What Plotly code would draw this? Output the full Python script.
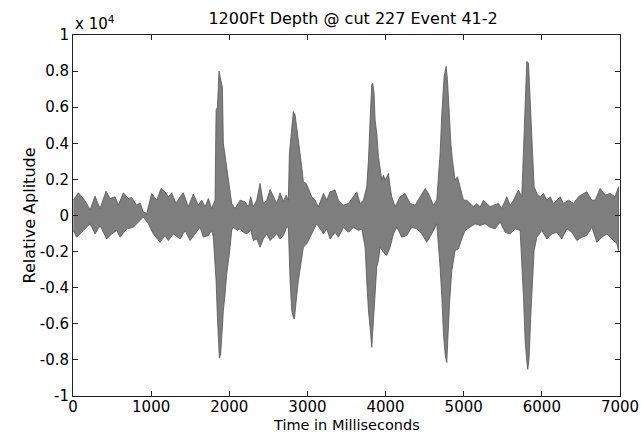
import numpy as np
import plotly.graph_objects as go

# envelope of the trace (amplitude in units of 10^4)
t_upper = [4, 68, 133, 175, 218, 282, 346, 423, 474, 538, 580, 644, 708, 751, 815, 858, 900, 943,
           1007, 1071, 1127, 1178, 1220, 1263, 1319, 1370, 1412, 1476, 1540, 1604, 1647, 1690, 1732,
           1775, 1818, 1831, 1848, 1869, 1882, 1895, 1912, 1924, 1946, 1967, 2001, 2031, 2074, 2138,
           2202, 2245, 2274, 2308, 2351, 2394, 2436, 2479, 2522, 2564, 2607, 2650, 2692, 2727, 2756,
           2769, 2799, 2820, 2842, 2863, 2884, 2906, 2927, 2948, 2982, 3012, 3055, 3098, 3140, 3205,
           3247, 3290, 3354, 3397, 3461, 3525, 3589, 3631, 3674, 3717, 3759, 3781, 3802, 3823, 3836,
           3853, 3866, 3887, 3909, 3930, 3951, 3973, 3994, 4015, 4037, 4058, 4079, 4122, 4186, 4250,
           4314, 4378, 4442, 4506, 4549, 4613, 4655, 4698, 4720, 4749, 4775, 4792, 4813, 4835, 4856,
           4890, 4920, 4954, 4997, 5039, 5082, 5125, 5167, 5210, 5253, 5295, 5338, 5381, 5445, 5488,
           5551, 5594, 5637, 5701, 5743, 5765, 5786, 5807, 5829, 5842, 5859, 5880, 5901, 5936, 5978,
           6021, 6064, 6106, 6149, 6192, 6234, 6277, 6341, 6405, 6469, 6533, 6575, 6640, 6682, 6746,
           6810, 6874, 6938, 6981]
v_upper = [0.085, 0.126, 0.094, 0.067, 0.030, 0.107, 0.039, 0.135, 0.094, 0.104, 0.057, 0.126, 0.094,
           0.100, 0.057, 0.070, 0.020, 0.011, 0.122, 0.085, 0.150, 0.131, 0.104, 0.126, 0.067, 0.104,
           0.126, 0.048, 0.119, 0.057, 0.085, 0.048, 0.094, 0.039, 0.085, 0.585, 0.600, 0.800, 0.770,
           0.740, 0.710, 0.400, 0.326, 0.250, 0.160, 0.067, 0.039, 0.085, 0.076, 0.048, 0.104, 0.048,
           0.085, 0.178, 0.067, 0.085, 0.144, 0.104, 0.067, 0.126, 0.076, 0.113, 0.085, 0.344, 0.510,
           0.576, 0.557, 0.490, 0.400, 0.335, 0.270, 0.187, 0.178, 0.150, 0.104, 0.085, 0.048, 0.122,
           0.085, 0.131, 0.141, 0.085, 0.057, 0.067, 0.104, 0.131, 0.067, 0.085, 0.159, 0.307, 0.530,
           0.724, 0.733, 0.678, 0.530, 0.456, 0.326, 0.252, 0.196, 0.224, 0.196, 0.215, 0.233, 0.159,
           0.104, 0.048, 0.104, 0.122, 0.067, 0.057, 0.104, 0.150, 0.122, 0.057, 0.085, 0.344, 0.567,
           0.770, 0.826, 0.752, 0.585, 0.400, 0.307, 0.196, 0.215, 0.159, 0.085, 0.085, 0.067, 0.048,
           0.067, 0.048, 0.085, 0.067, 0.048, 0.057, 0.067, 0.039, 0.104, 0.057, 0.085, 0.141, 0.104,
           0.363, 0.640, 0.854, 0.844, 0.715, 0.493, 0.307, 0.159, 0.122, 0.104, 0.122, 0.085, 0.104,
           0.067, 0.085, 0.104, 0.067, 0.085, 0.067, 0.104, 0.122, 0.131, 0.085, 0.085, 0.150, 0.113,
           0.122, 0.104, 0.159]

t_lower = [4, 47, 133, 218, 282, 346, 431, 495, 559, 602, 687, 772, 836, 900, 964, 1028, 1114, 1178,
           1220, 1284, 1370, 1434, 1498, 1562, 1626, 1668, 1732, 1775, 1796, 1831, 1848, 1860, 1873,
           1890, 1903, 1924, 1946, 1967, 2001, 2031, 2052, 2104, 2138, 2180, 2223, 2274, 2308, 2351,
           2394, 2436, 2479, 2522, 2564, 2607, 2650, 2692, 2735, 2756, 2778, 2799, 2820, 2833, 2850,
           2863, 2884, 2906, 2948, 2991, 3055, 3119, 3205, 3247, 3290, 3354, 3397, 3461, 3525, 3589,
           3653, 3695, 3738, 3759, 3781, 3802, 3823, 3845, 3866, 3887, 3909, 3930, 3973, 4015, 4058,
           4101, 4143, 4207, 4271, 4335, 4399, 4463, 4527, 4591, 4655, 4698, 4720, 4741, 4762, 4783,
           4796, 4818, 4847, 4890, 4933, 4975, 5018, 5082, 5146, 5210, 5274, 5338, 5402, 5466, 5530,
           5594, 5658, 5722, 5743, 5765, 5786, 5807, 5820, 5837, 5859, 5880, 5901, 5936, 6000, 6064,
           6128, 6192, 6256, 6320, 6384, 6448, 6512, 6575, 6640, 6704, 6768, 6832, 6896, 6960, 6981]
v_lower = [-0.083, -0.120, -0.083, -0.046, -0.102, -0.056, -0.130, -0.102, -0.083, -0.120, -0.074,
           -0.065, -0.037, -0.009, -0.046, -0.102, -0.148, -0.111, -0.139, -0.102, -0.130, -0.083,
           -0.139, -0.102, -0.065, -0.120, -0.111, -0.083, -0.120, -0.361, -0.565, -0.694, -0.790,
           -0.769, -0.676, -0.528, -0.435, -0.324, -0.213, -0.083, -0.065, -0.083, -0.074, -0.093,
           -0.102, -0.083, -0.139, -0.130, -0.176, -0.130, -0.102, -0.139, -0.120, -0.102, -0.130,
           -0.111, -0.065, -0.065, -0.361, -0.528, -0.565, -0.574, -0.509, -0.444, -0.361, -0.287,
           -0.176, -0.157, -0.102, -0.046, -0.102, -0.074, -0.130, -0.093, -0.120, -0.065, -0.093,
           -0.065, -0.083, -0.074, -0.176, -0.361, -0.528, -0.620, -0.731, -0.620, -0.435, -0.287,
           -0.250, -0.176, -0.204, -0.222, -0.176, -0.102, -0.065, -0.120, -0.111, -0.065, -0.074,
           -0.102, -0.148, -0.102, -0.046, -0.287, -0.454, -0.657, -0.769, -0.815, -0.731, -0.491,
           -0.306, -0.194, -0.185, -0.130, -0.083, -0.065, -0.046, -0.056, -0.046, -0.065, -0.074,
           -0.037, -0.093, -0.102, -0.074, -0.083, -0.213, -0.454, -0.694, -0.806, -0.852, -0.787,
           -0.546, -0.361, -0.194, -0.120, -0.083, -0.130, -0.102, -0.093, -0.130, -0.074, -0.093,
           -0.139, -0.120, -0.111, -0.065, -0.148, -0.120, -0.102, -0.130, -0.157, -0.194]

x_ticks = [0, 1000, 2000, 3000, 4000, 5000, 6000, 7000]
y_ticks = [-1, -0.8, -0.6, -0.4, -0.2, 0, 0.2, 0.4, 0.6, 0.8, 1]
y_labels = ["-1", "-0.8", "-0.6", "-0.4", "-0.2", "0", "0.2", "0.4", "0.6", "0.8", "1"]

FONT = "DejaVu Sans, Liberation Sans, sans-serif"
FS = 15

# closed outline: along the top edge, back along the bottom edge
px = list(t_upper) + list(t_lower[::-1])
py = list(v_upper) + list(v_lower[::-1])

fig = go.Figure()
fig.add_trace(go.Scatter(
    x=px, y=py, mode="lines", fill="toself",
    fillcolor="#7e7e7e", line=dict(color="#555555", width=0.8),
    hoverinfo="skip", showlegend=False))

axis_common = dict(showline=True, linecolor="#222222", linewidth=1, mirror="ticks",
                   ticks="inside", ticklen=5, tickcolor="#222222", showgrid=False,
                   zeroline=False, automargin=False,
                   tickfont=dict(family=FONT, size=FS, color="black"))

fig.update_xaxes(range=[0, 7000], tickvals=x_ticks, ticktext=[str(v) for v in x_ticks],
                 ticklabelstandoff=-3, **axis_common)
fig.update_yaxes(range=[-1, 1], tickvals=y_ticks, ticktext=y_labels,
                 title=dict(text="Relative Aplitude", standoff=0,
                            font=dict(family=FONT, size=16, color="black")),
                 **axis_common)

# x title placed by hand so it sits just under the tick labels
fig.add_annotation(text="Time in Milliseconds", xref="paper", yref="paper", x=0.5, y=0,
                   xanchor="center", yanchor="middle", yshift=-29, borderpad=0,
                   showarrow=False, font=dict(family=FONT, size=14.5, color="black"))
fig.add_annotation(text="x 10<sup>4</sup>", xref="paper", yref="paper", x=0, y=1,
                   xanchor="left", yanchor="bottom", yshift=0, showarrow=False,
                   font=dict(family=FONT, size=FS, color="black"))

fig.update_layout(
    width=642, height=434,
    margin=dict(l=73, r=22, t=35, b=38),
    paper_bgcolor="white", plot_bgcolor="white",
    title=dict(text="1200Ft Depth @ cut 227 Event 41-2", xref="paper", x=0.512,
               xanchor="center", y=0.958, yanchor="middle",
               font=dict(family=FONT, size=16, color="black")),
)

# page body has a default 8px margin; drop it so the figure sits at the corner
fig.write_html("out.html", config={"displayModeBar": False},
               post_script="document.body.style.margin='0';")
